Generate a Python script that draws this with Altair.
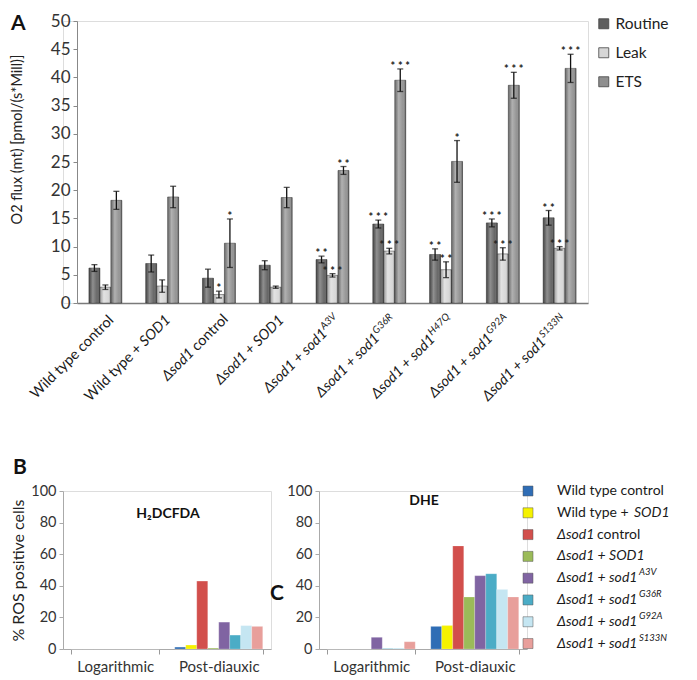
import altair as alt
import pandas as pd

FONT = "Lato"

# ---------------- Panel A data ----------------
groups = ["Wild type control", "Wild type + SOD1", "Δsod1 control", "Δsod1 + SOD1",
          "Δsod1 + sod1 A3V", "Δsod1 + sod1 G36R", "Δsod1 + sod1 H47Q",
          "Δsod1 + sod1 G92A", "Δsod1 + sod1 S133N"]
series_a = ["Routine", "Leak", "ETS"]
routine = [6.2, 7.0, 4.4, 6.7, 7.7, 14.0, 8.6, 14.2, 15.1]
routine_err = [0.6, 1.5, 1.6, 0.8, 0.6, 0.7, 1.0, 0.7, 1.3]
leak = [2.8, 3.0, 1.5, 2.8, 4.9, 9.2, 5.9, 8.7, 9.7]
leak_err = [0.4, 1.1, 0.6, 0.2, 0.3, 0.5, 1.4, 1.1, 0.3]
ets = [18.2, 18.8, 10.6, 18.7, 23.5, 39.5, 25.1, 38.6, 41.6]
ets_err = [1.6, 1.9, 4.3, 1.8, 0.7, 2.0, 3.7, 2.3, 2.5]
routine_sig = ["", "", "", "", "**", "***", "**", "***", "**"]
leak_sig = ["", "", "*", "", "***", "***", "**", "***", "***"]
ets_sig = ["", "", "*", "", "**", "***", "*", "***", "***"]

label_prefix = ["Wild type control", "Wild type +", "Δsod1", "Δsod1 + SOD1",
                "Δsod1 + sod1", "Δsod1 + sod1", "Δsod1 + sod1", "Δsod1 + sod1", "Δsod1 + sod1"]
label_suffix = ["", "SOD1", "control", "", "A3V", "G36R", "H47Q", "G92A", "S133N"]

# ---------------- Panel B / C data ----------------
phases = ["Logarithmic", "Post-diauxic"]
series_b = ["Wild type control", "Wild type + SOD1", "Δsod1 control", "Δsod1 + SOD1",
            "Δsod1 + sod1 A3V", "Δsod1 + sod1 G36R", "Δsod1 + sod1 G92A", "Δsod1 + sod1 S133N"]
h2dcfda_log = [0, 0, 0, 0, 0, 0, 0, 0]
h2dcfda_post = [1.2, 2.5, 43.0, 0.6, 17.0, 8.8, 14.8, 14.3]
dhe_log = [0, 0, 0, 0, 7.4, 0.3, 0.6, 4.6]
dhe_post = [14.3, 14.8, 65.2, 32.9, 46.4, 47.6, 37.7, 32.9]
legend_prefix = ["Wild type control", "Wild type +", "Δsod1", "Δsod1 + SOD1",
                 "Δsod1 + sod1", "Δsod1 + sod1", "Δsod1 + sod1", "Δsod1 + sod1"]
legend_suffix = ["", "SOD1", "control", "", "A3V", "G36R", "G92A", "S133N"]

colors_a = ["#5f5f5f", "#d6d6d6", "#8f8f8f"]
colors_b = ["#2f6db5", "#f5f200", "#d24f4c", "#9bbb59", "#8064a2", "#4bacc6", "#c5e6f2", "#e89f9b"]

# ---------------- Panel A ----------------
rows = []
for i, g in enumerate(groups):
    for s, v, e, st in (("Routine", routine[i], routine_err[i], routine_sig[i]),
                        ("Leak", leak[i], leak_err[i], leak_sig[i]),
                        ("ETS", ets[i], ets_err[i], ets_sig[i])):
        rows.append({"group": g, "series": s, "value": v, "lo": v - e, "hi": v + e,
                     "star": " ".join(st)})
dfA = pd.DataFrame(rows)

SHIFT = 14                     # plot of A starts this far right of the shared origin
W_A, H_A = SHIFT + 511, 282
xA = alt.X("group:N", scale=alt.Scale(domain=groups, range=[SHIFT, W_A],
                                      paddingInner=0.42, paddingOuter=0.21),
           axis=alt.Axis(labels=False, ticks=False, title=None, domainColor="#7a7a7a",
                         domainWidth=1.5))
xoA = alt.XOffset("series:N", scale=alt.Scale(domain=series_a, paddingInner=0, paddingOuter=0))
axisA = alt.Axis(values=list(range(0, 51, 5)), title="O2 flux (mt) [pmol/(s*Mill)]",
                 titleFontSize=14.5, titleFontWeight="normal", titleFont=FONT,
                 titleColor="#222", titleX=-60, titleY=118, titleBaseline="middle",
                 labelFontSize=17, labelFont=FONT, labelColor="#333", tickSize=4,
                 tickColor="#888", domainColor="#888", grid=False, labelPadding=3,
                 offset=-SHIFT)
scaleA = alt.Scale(domain=[0, 50])


def yA(field):
    return alt.Y(field + ":Q", scale=scaleA, axis=axisA)


bars = alt.Chart(dfA).mark_bar(stroke="#333", strokeWidth=0.5).encode(
    x=xA, xOffset=xoA, y=yA("value"),
    color=alt.Color("series:N", scale=alt.Scale(domain=series_a, range=colors_a),
                    legend=alt.Legend(title=None, orient="none", legendX=533, legendY=-5,
                                      symbolType="square", symbolSize=100,
                                      symbolStrokeColor="#444", symbolStrokeWidth=0.8,
                                      labelFontSize=15.5, labelFont=FONT, labelColor="#222",
                                      rowPadding=12, labelOffset=4)))
shine = alt.Chart(dfA).mark_bar(color=alt.Gradient(
    gradient="linear", x1=0, x2=1, y1=0, y2=0,
    stops=[alt.GradientStop(offset=0, color="rgba(0,0,0,0.25)"),
           alt.GradientStop(offset=0.35, color="rgba(255,255,255,0.30)"),
           alt.GradientStop(offset=0.75, color="rgba(255,255,255,0.05)"),
           alt.GradientStop(offset=1, color="rgba(0,0,0,0.45)")])).encode(
    x=xA, xOffset=xoA, y=yA("value"))
err_rule = alt.Chart(dfA).mark_rule(color="#111", strokeWidth=1.3).encode(
    x=xA, xOffset=xoA, y=yA("lo"), y2="hi:Q")
cap_lo = alt.Chart(dfA).mark_tick(color="#111", thickness=1.3, size=6).encode(
    x=xA, xOffset=xoA, y=yA("lo"))
cap_hi = alt.Chart(dfA).mark_tick(color="#111", thickness=1.3, size=6).encode(
    x=xA, xOffset=xoA, y=yA("hi"))
stars = alt.Chart(dfA).mark_text(font=FONT, fontSize=11, fontWeight="bold", color="#222",
                                 baseline="alphabetic", dy=1).encode(
    x=xA, xOffset=xoA, y=yA("hi"), text="star:N")

letterA = alt.Chart(pd.DataFrame({"t": ["A"]})).mark_text(
    font=FONT, fontSize=21, fontWeight="bold", align="left", baseline="top", color="#111").encode(
    x=alt.value(-52), y=alt.value(-8), text="t:N")
topAnchor = alt.Chart(pd.DataFrame({"t": ["A"]})).mark_point(opacity=0, size=4).encode(
    x=alt.value(0), y=alt.value(-11))


def rot(sx, sy):
    k = 0.70710678
    return (sx - sy) * k, (sx + sy) * k


prefix_italic = [False, False, True, True, True, True, True, True, True]
suffix_style = [None, "ital", "up", None, "sup", "sup", "sup", "sup", "sup"]
suffix_width = [0, 36.7, 43.4, 0, 18.7, 25.0, 26.8, 25.4, 30.3]
suffix_gap = [0, 3.5, 3.5, 0, 0.5, 0.5, 0.5, 0.5, 0.5]

label_layers = []
bdx, bdy = rot(9, 0)
for i, g in enumerate(groups):
    sw = suffix_width[i] + suffix_gap[i]
    d1 = pd.DataFrame({"group": [g], "t": [label_prefix[i]]})
    label_layers.append(alt.Chart(d1).mark_text(
        angle=315, align="right", baseline="alphabetic", dx=bdx - sw, dy=bdy, font=FONT,
        fontSize=14.5, fontStyle="italic" if prefix_italic[i] else "normal", color="#1a1a1a").encode(
        x=xA, y=alt.value(H_A + 18), text="t:N"))
    if suffix_style[i]:
        st = suffix_style[i]
        d2 = pd.DataFrame({"group": [g], "t": [label_suffix[i]]})
        label_layers.append(alt.Chart(d2).mark_text(
            angle=315, align="left", baseline="alphabetic", dx=bdx - sw + suffix_gap[i],
            dy=bdy - (6 if st == "sup" else 0), font=FONT,
            fontSize=10 if st == "sup" else 14.5,
            fontStyle="normal" if st == "up" else "italic", color="#1a1a1a").encode(
            x=xA, y=alt.value(H_A + 18), text="t:N"))

panelA = alt.layer(bars, shine, err_rule, cap_lo, cap_hi, stars, letterA, topAnchor,
                   *label_layers).properties(width=W_A, height=H_A)

# ---------------- Panels B / C ----------------
rowsB = []
for i, s in enumerate(series_b):
    rowsB.append({"strain": s, "phase": "Logarithmic", "h2": h2dcfda_log[i], "dhe": dhe_log[i]})
    rowsB.append({"strain": s, "phase": "Post-diauxic", "h2": h2dcfda_post[i], "dhe": dhe_post[i]})
dfB = pd.DataFrame(rowsB)

W_B, H_B = 208, 158
TOP = -34   # common top anchor for the lower panels
xB = alt.X("phase:N", scale=alt.Scale(domain=phases, paddingInner=0.15, paddingOuter=0.08),
           axis=alt.Axis(title=None, labelAngle=0, labelFontSize=15, labelFont=FONT,
                         labelColor="#333", tickBand="extent", tickSize=5, tickColor="#999",
                         domainColor="#aaa", labelPadding=5))
xoB = alt.XOffset("strain:N", scale=alt.Scale(domain=series_b, paddingInner=0, paddingOuter=0))
colB = alt.Color("strain:N", scale=alt.Scale(domain=series_b, range=colors_b), legend=None)


def yB(field, title):
    return alt.Y(field + ":Q", scale=alt.Scale(domain=[0, 100]),
                 axis=alt.Axis(values=[0, 20, 40, 60, 80, 100], title=title, titleFontSize=16,
                               titleFontWeight="normal", titleFont=FONT, titleColor="#222",
                               labelFontSize=14.5, labelFont=FONT, labelColor="#333", tickSize=4,
                               tickColor="#aaa", domainColor="#aaa", grid=False, labelPadding=3,
                               titlePadding=4))


def annot(text, x, y, size, align="center", baseline="middle", opacity=1):
    return alt.Chart(pd.DataFrame({"t": [text]})).mark_text(
        font=FONT, fontSize=size, fontWeight="bold", align=align, baseline=baseline,
        color="#111", opacity=opacity).encode(x=alt.value(x), y=alt.value(y), text="t:N")


barsB1 = alt.Chart(dfB).mark_bar(stroke="#ffffff", strokeOpacity=0.4, strokeWidth=0.5).encode(
    x=xB, xOffset=xoB, y=yB("h2", "% ROS positive cells"), color=colB)
panelB1 = alt.layer(barsB1, annot("H₂DCFDA", 105, 23, 14),
                    annot("B", -50, TOP, 21, align="left", baseline="top")).properties(
    width=W_B, height=H_B)

barsB2 = alt.Chart(dfB).mark_bar(stroke="#ffffff", strokeOpacity=0.4, strokeWidth=0.5).encode(
    x=xB, xOffset=xoB, y=yB("dhe", None), color=colB)

# legend drawn next to the DHE panel, with its own vertical scale
dfL = pd.DataFrame({"strain": series_b, "k": list(range(len(series_b)))})
yL = alt.Y("k:Q", scale=alt.Scale(domain=[0, 7.25], reverse=True, nice=False, zero=False),
           axis=None)
LX = W_B + 1
squares = alt.Chart(dfL).mark_square(size=100, stroke="#555", strokeWidth=0.5, opacity=1).encode(
    x=alt.value(LX), y=yL, color=colB)
legend_prefix_italic = [False, False, True, True, True, True, True, True]
legend_suffix_style = [None, "ital", "up", None, "sup", "sup", "sup", "sup"]
legend_suffix_dx = [0, 77, 40, 0, 82, 82, 82, 82]
leg_layers = [squares]
for i, s in enumerate(series_b):
    d1 = pd.DataFrame({"k": [i], "t": [legend_prefix[i]]})
    leg_layers.append(alt.Chart(d1).mark_text(
        align="left", baseline="middle", font=FONT, fontSize=14, color="#1a1a1a",
        fontStyle="italic" if legend_prefix_italic[i] else "normal").encode(
        x=alt.value(LX + 29), y=yL, text="t:N"))
    if legend_suffix_style[i]:
        st = legend_suffix_style[i]
        d2 = pd.DataFrame({"k": [i], "t": [legend_suffix[i]]})
        leg_layers.append(alt.Chart(d2).mark_text(
            align="left", baseline="middle", font=FONT, fontSize=9.5 if st == "sup" else 14,
            dy=-6 if st == "sup" else 0, color="#1a1a1a",
            fontStyle="normal" if st == "up" else "italic").encode(
            x=alt.value(LX + 29 + legend_suffix_dx[i]), y=yL, text="t:N"))

panelB2 = alt.layer(barsB2, annot("DHE", 105, 10, 14), annot("C", -42, 103, 21),
                    annot("B", 0, TOP, 21, align="left", baseline="top", opacity=0),
                    *leg_layers).resolve_scale(y="independent").properties(
    width=W_B, height=H_B)

indep = dict(x="independent", y="independent", xOffset="independent", color="independent")
rowB = alt.hconcat(panelB1, panelB2, spacing=-3).resolve_scale(**indep)

chart = alt.vconcat(panelA, rowB, spacing=51).resolve_scale(**indep).properties(
    padding={"left": 0, "top": 0, "right": 0, "bottom": 0}
).configure_view(stroke=None).configure(font=FONT).configure_axisY(
    labelFontSize=17, titleFontSize=14.5)

chart.save("out.html", embed_options={"renderer": "svg", "actions": False})
